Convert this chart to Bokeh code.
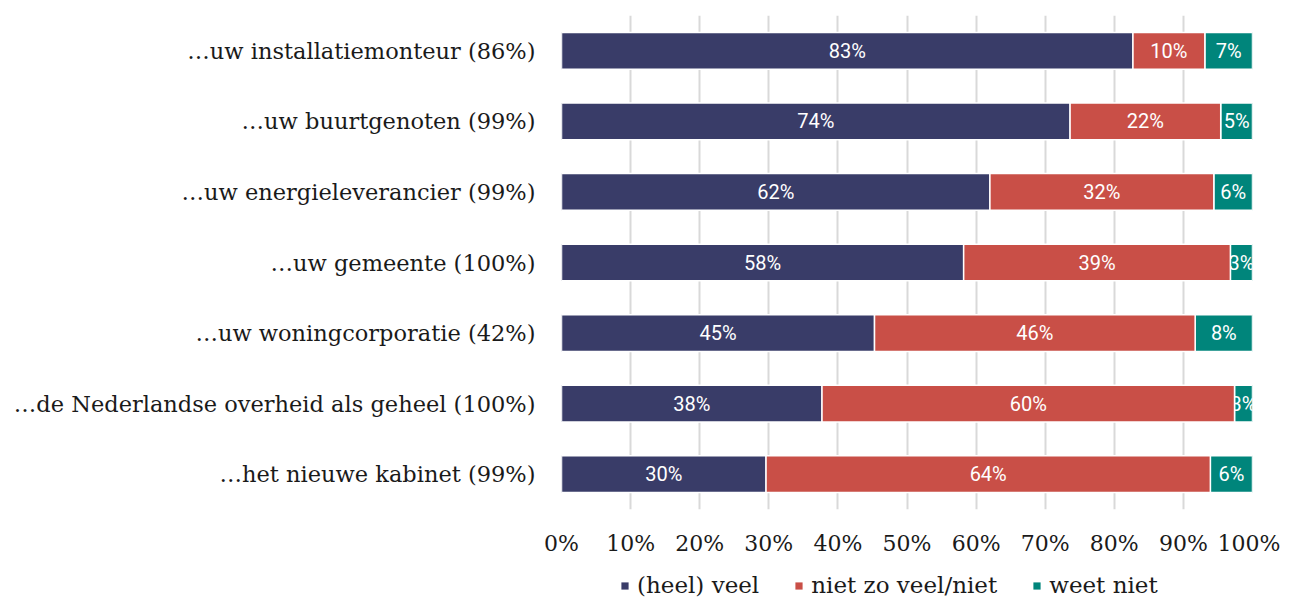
from bokeh.plotting import figure
from bokeh.layouts import column
from bokeh.models import (FactorRange, Range1d, FixedTicker, PrintfTickFormatter,
                          Legend, LegendItem, ColumnDataSource)
from bokeh.core.properties import value
from bokeh.embed import file_html
from bokeh.resources import INLINE

categories = [
    "\u2026uw installatiemonteur (86%)",
    "\u2026uw buurtgenoten (99%)",
    "\u2026uw energieleverancier (99%)",
    "\u2026uw gemeente (100%)",
    "\u2026uw woningcorporatie (42%)",
    "\u2026de Nederlandse overheid als geheel (100%)",
    "\u2026het nieuwe kabinet (99%)",
]
veel = [82.7, 73.6, 62.0, 58.2, 45.3, 37.7, 29.6]
niet = [10.4, 21.8, 32.4, 38.6, 46.4, 59.7, 64.3]
weet = [6.9, 4.6, 5.6, 3.2, 8.3, 2.6, 6.1]
series_names = ["(heel) veel", "niet zo veel/niet", "weet niet"]
x_ticks = list(range(0, 101, 10))

C_VEEL = "#393c68"
C_NIET = "#c94f47"
C_WEET = "#00857b"
SERIF = "DejaVu Serif"

p = figure(width=1280, height=558, output_backend="svg", toolbar_location=None,
           y_range=FactorRange(factors=list(reversed(categories))),
           x_range=Range1d(0, 100),
           min_border_left=561, min_border_right=28, min_border_top=15,
           min_border_bottom=46)
p.outline_line_color = None
p.ygrid.grid_line_color = None
p.xgrid.grid_line_color = "#d9d9d9"
p.xgrid.grid_line_width = 2
p.xaxis.ticker = FixedTicker(ticks=x_ticks)
p.xaxis.formatter = PrintfTickFormatter(format="%d%%")
for ax in (p.xaxis, p.yaxis):
    ax.axis_line_color = None
    ax.major_tick_line_color = None
    ax.minor_tick_line_color = None
    ax.major_label_text_font = SERIF
    ax.major_label_text_color = "#1a1a1a"
p.yaxis.major_label_text_font_size = "22.5px"
p.xaxis.major_label_text_font_size = "22px"
p.xaxis.major_label_standoff = 15
p.yaxis.major_label_standoff = 20

left_niet = [a for a in veel]
left_weet = [a + b for a, b in zip(veel, niet)]
end_weet = [a + b for a, b in zip(left_weet, weet)]
end_niet = left_weet

src = ColumnDataSource(dict(
    cat=categories, veel=veel, niet=niet, weet=weet,
    zero=[0] * len(categories), lniet=left_niet, lweet=left_weet,
    eniet=end_niet, eweet=end_weet,
    cveel=[v / 2 for v in veel],
    cniet=[l + v / 2 for l, v in zip(left_niet, niet)],
    cweet=[l + v / 2 for l, v in zip(left_weet, weet)],
    tveel=[f"{round(v)}%" for v in veel],
    tniet=[f"{round(v)}%" for v in niet],
    tweet=[f"{round(v)}%" for v in weet],
))

H = 0.52
lbl = dict(text_align="center", text_baseline="middle", text_color="white",
           text_font=value("Roboto"), text_font_size="20px")

p.hbar(y="cat", left="zero", right="veel", height=H, source=src,
       fill_color=C_VEEL, line_color="white", line_width=1.5)
p.hbar(y="cat", left="lweet", right="eweet", height=H, source=src,
       fill_color=C_WEET, line_color="white", line_width=1.5)
p.text(x="cweet", y="cat", text="tweet", source=src, **lbl)
p.hbar(y="cat", left="lniet", right="eniet", height=H, source=src,
       fill_color=C_NIET, line_color="white", line_width=1.5)
p.text(x="cniet", y="cat", text="tniet", source=src, **lbl)
p.text(x="cveel", y="cat", text="tveel", source=src, **lbl)

# legend strip below the chart (its frame is aligned with the chart's frame)
lf = figure(width=1280, height=40, output_backend="svg", toolbar_location=None,
            x_axis_type=None, y_axis_type=None, x_range=Range1d(0, 1),
            y_range=Range1d(0, 1), min_border=0)
lf.outline_line_color = None
proxy = ColumnDataSource(dict(y=[-10.0], left=[0.0], right=[1.0]))  # off-range legend proxies
rend = []
for c in (C_VEEL, C_NIET, C_WEET):
    rend.append(lf.hbar(y="y", left="left", right="right", height=0.5,
                        source=proxy, fill_color=c, line_color=None))
legend = Legend(items=[LegendItem(label=n, renderers=[r])
                       for n, r in zip(series_names, rend)],
                orientation="horizontal", location=(59, 0),
                glyph_width=9, glyph_height=9, label_standoff=8, spacing=35,
                padding=0, margin=0, border_line_color=None,
                background_fill_alpha=0,
                label_text_font=SERIF, label_text_font_size="23px",
                label_text_color="#1a1a1a")
lf.add_layout(legend)

layout = column(p, lf, spacing=0)
open("out.html", "w").write(file_html(layout, INLINE))
